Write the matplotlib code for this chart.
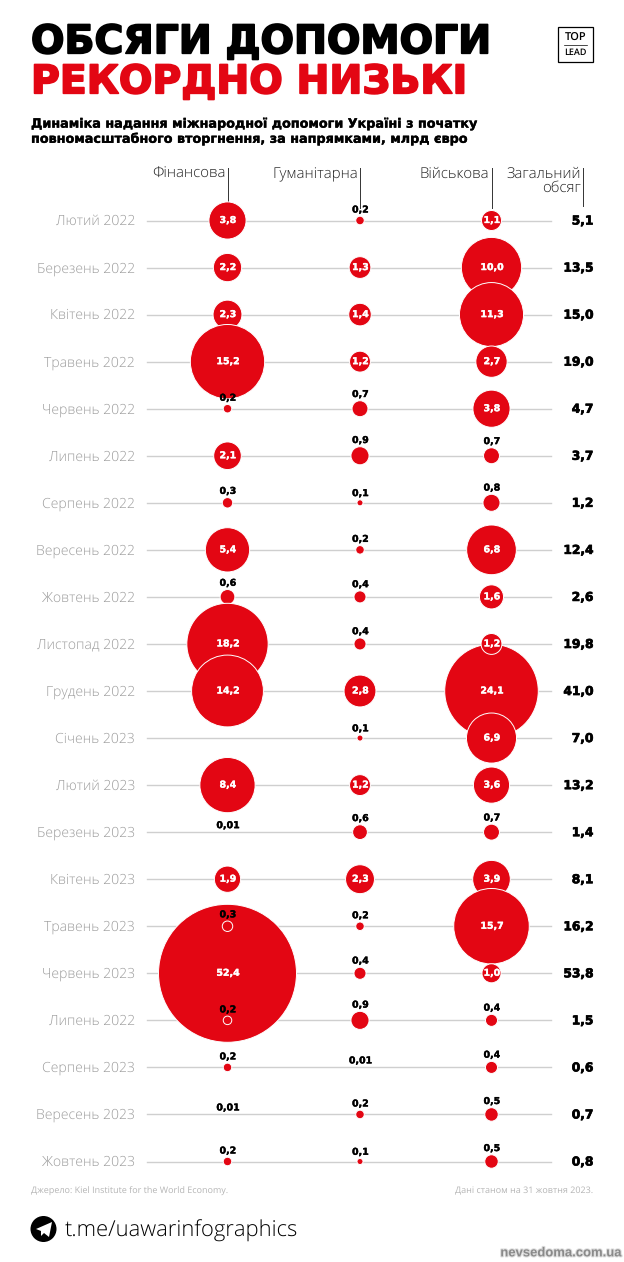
# === Обсяги допомоги: bubble rows by month ===

import numpy as np
import matplotlib
matplotlib.use('Agg')
import matplotlib.pyplot as plt
from matplotlib.patches import Circle, Polygon, Rectangle
import matplotlib.patheffects as pe

plt.rcParams['text.hinting'] = 'no_hinting'
plt.rcParams['text.hinting_factor'] = 1

months = ['Лютий 2022', 'Березень 2022', 'Квітень 2022', 'Травень 2022', 'Червень 2022',
          'Липень 2022', 'Серпень 2022', 'Вересень 2022', 'Жовтень 2022', 'Листопад 2022',
          'Грудень 2022', 'Січень 2023', 'Лютий 2023', 'Березень 2023', 'Квітень 2023',
          'Травень 2023', 'Червень 2023', 'Липень 2022', 'Серпень 2023', 'Вересень 2023',
          'Жовтень 2023']
financial = [3.8, 2.2, 2.3, 15.2, 0.2, 2.1, 0.3, 5.4, 0.6, 18.2, 14.2, None, 8.4, 0.01,
             1.9, 0.3, 52.4, 0.2, 0.2, 0.01, 0.2]
humanitarian = [0.2, 1.3, 1.4, 1.2, 0.7, 0.9, 0.1, 0.2, 0.4, 0.4, 2.8, 0.1, 1.2, 0.6,
                2.3, 0.2, 0.4, 0.9, 0.01, 0.2, 0.1]
military = [1.1, 10.0, 11.3, 2.7, 3.8, 0.7, 0.8, 6.8, 1.6, 1.2, 24.1, 6.9, 3.6, 0.7,
            3.9, 15.7, 1.0, 0.4, 0.4, 0.5, 0.5]
total = [5.1, 13.5, 15.0, 19.0, 4.7, 3.7, 1.2, 12.4, 2.6, 19.8, 41.0, 7.0, 13.2, 1.4,
         8.1, 16.2, 53.8, 1.5, 0.6, 0.7, 0.8]
columns = ['Фінансова', 'Гуманітарна', 'Військова']

RED = '#e30613'
GRAY = '#9c9c9c'
DARK = '#222222'
BODY = 'Open Sans'
HEAVY = 'DejaVu Sans'


def fmt(v):
    if v == 0.01:
        return '0,01'
    return f'{v:.1f}'.replace('.', ',')


def bolder(color, width=0.35):
    return [pe.withStroke(linewidth=width, foreground=color)]


fig = plt.figure(figsize=(6.24, 12.62), dpi=100)
ax = fig.add_axes([0, 0, 1, 1])
ax.set_xlim(0, 624)
ax.set_ylim(1262, 0)
ax.axis('off')

# title block
ax.text(31, 42.5, 'ОБСЯГИ ДОПОМОГИ', fontsize=28.35, family=HEAVY, weight='bold', va='center',
        path_effects=bolder('black', 1.3))
ax.text(31, 82.5, 'РЕКОРДНО НИЗЬКІ', fontsize=28.35, family=HEAVY, weight='bold', va='center',
        color=RED, path_effects=bolder(RED, 1.3))
ax.text(31, 124, 'Динаміка надання міжнародної допомоги Україні з початку', fontsize=9.2,
        family=HEAVY, weight='bold', va='center', path_effects=bolder('black', 0.25))
ax.text(31, 139, 'повномасштабного вторгнення, за напрямками, млрд євро', fontsize=9.2,
        family=HEAVY, weight='bold', va='center', path_effects=bolder('black', 0.25))

# logo
ax.add_patch(Rectangle((558, 27), 35, 35, fill=False, edgecolor='black', linewidth=0.9))
ax.plot([564, 587], [45, 45], color='black', linewidth=0.5)
ax.text(575.5, 38, 'TOP', fontsize=8, family=BODY, ha='center', va='center', weight='semibold')
ax.text(575.5, 53, 'LEAD', fontsize=6.8, family=BODY, ha='center', va='center', weight='semibold')

# column layout
col_x = [227.5, 360, 491.5]
row_y = 220.5 + 47.05 * np.arange(len(months))
k = 9.53  # px radius per sqrt(bln)

for name, x, bottom in zip(columns, col_x, [203, 208, 208]):
    ax.plot([x, x], [168, bottom], color='#333333', linewidth=0.7)
    ax.text(x - 2, 174, name, fontsize=11.15, family=BODY, weight='light', ha='right', va='center',
            color=DARK)
ax.plot([583, 583], [168, 206], color='#333333', linewidth=0.7)
ax.text(581, 174, 'Загальний', fontsize=11.15, family=BODY, weight='light', ha='right', va='center',
        color=DARK)
ax.text(581, 188, 'обсяг', fontsize=11.15, family=BODY, weight='light', ha='right', va='center',
        color=DARK)

# circles sitting inside a bigger neighbour go on top of it
on_top = {(0, 15), (0, 17), (2, 9)}

for i, (month, y) in enumerate(zip(months, row_y)):
    ax.plot([147, 551], [y, y], color='#cfcfcf', linewidth=1.0, zorder=1)
    ax.text(135, y + 1, month, fontsize=10.3, family=BODY, weight='light', ha='right', va='center',
            color=GRAY)
    ax.text(593, y + 0.7, fmt(total[i]), fontsize=8.8, family=HEAVY, weight='bold', ha='right',
            va='center', zorder=100, path_effects=bolder('black', 0.5))

    for c, series in enumerate([financial, humanitarian, military]):
        v = series[i]
        if v is None:
            continue
        x = col_x[c]
        r = k * np.sqrt(v)
        z = 3 + i + (40 if (c, i) in on_top else 0)
        if v >= 0.05:
            ax.add_patch(Circle((x, y), r, facecolor=RED, edgecolor='white',
                                linewidth=0.7, zorder=z))
        if v >= 1:
            ax.text(x, y, fmt(v), fontsize=6.8, family=HEAVY, weight='bold', color='white',
                    ha='center', va='center', zorder=100, path_effects=bolder('white', 0.25))
        else:
            above = 6.5 if v == 0.01 else r + 6.2
            ax.text(x, y - above, fmt(v), fontsize=6.8, family=HEAVY, weight='bold',
                    ha='center', va='center', zorder=100, path_effects=bolder('black', 0.25))

# footer
ax.text(31, 1191, 'Джерело: Kiel Institute for the World Economy.', fontsize=6.35, family=BODY,
        color='#b5b5b5', va='center')
ax.text(593, 1191, 'Дані станом на 31 жовтня 2023.', fontsize=6.25, family=BODY,
        color='#b5b5b5', va='center', ha='right')
ax.add_patch(Circle((43.5, 1229), 13, facecolor='black', edgecolor='none'))
ax.add_patch(Polygon([(36, 1229), (52, 1222), (49, 1237), (44, 1233), (41, 1236), (41, 1231)],
                     facecolor='white', edgecolor='none', zorder=3))
ax.text(65, 1231, 't.me/uawarinfographics', fontsize=15.7, family=BODY, weight='light', va='center')
ax.text(621, 1253, 'nevsedoma.com.ua', fontsize=9.4, family='Liberation Sans', weight='bold',
        ha='right', va='center', color='#8a8a8a',
        path_effects=[pe.withStroke(linewidth=1.5, foreground='#dddddd')])

fig.savefig('out.png', dpi=100)
